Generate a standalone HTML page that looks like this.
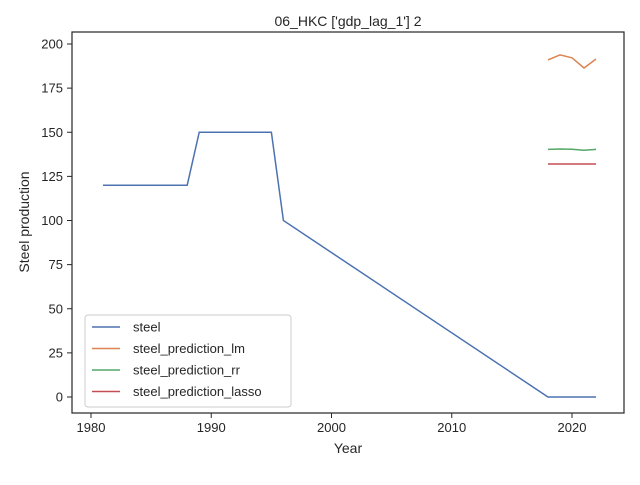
<!DOCTYPE html>
<html><head><meta charset="utf-8"><style>
body{margin:0;background:#fff;font-family:"Liberation Sans","DejaVu Sans",sans-serif}
text{font-family:"Liberation Sans","DejaVu Sans",sans-serif;fill:#262626}
</style></head><body>
<svg id="c" width="640" height="480" xmlns="http://www.w3.org/2000/svg">
<rect width="640" height="480" fill="#fff"/>
<g id="plot"></g>
</svg>
<script>
const steelYears=[1981,1988,1989,1995,1996,2018,2019,2020,2021,2022];
const steelVals=[120,120,150,150,100,0,0,0,0,0];
const predYears=[2018,2019,2020,2021,2022];
const lmVals=[191,193.8,192.2,186.4,191.5];
const rrVals=[140.3,140.5,140.4,139.8,140.3];
const lassoVals=[132,132,132,132,132];
const xTicks=[1980,1990,2000,2010,2020];
const yTicks=[0,25,50,75,100,125,150,175,200];
const L=72,R=624,T=32,B=413;
const x=v=>91+(v-1980)*(481/40);
const y=v=>397-v*1.765;
const NS="http://www.w3.org/2000/svg";
const g=document.getElementById('plot');
function mk(t,a,p){const e=document.createElementNS(NS,t);for(const k in a)e.setAttribute(k,a[k]);(p||g).appendChild(e);return e;}
function line(xs,vs,col,name){const e=mk('polyline',{points:xs.map((d,i)=>x(d)+','+y(vs[i])).join(' '),fill:'none',stroke:col,'stroke-width':1.5});

}
xTicks.forEach(t=>{mk('line',{x1:x(t),x2:x(t),y1:B,y2:B+5,stroke:'#262626'});const tx=mk('text',{x:x(t),y:B+19,'text-anchor':'middle','font-size':13});tx.textContent=t;

});
yTicks.forEach(t=>{mk('line',{x1:L-5,x2:L,y1:y(t),y2:y(t),stroke:'#262626'});const tx=mk('text',{x:L-9,y:y(t)+4.5,'text-anchor':'end','font-size':13});tx.textContent=t;

});
line(steelYears,steelVals,'#4c72b0','steel-line');
line(predYears,lmVals,'#dd8452','lm-line');
line(predYears,rrVals,'#55a868','rr-line');
line(predYears,lassoVals,'#c44e52','lasso-line');
mk('rect',{x:L,y:T,width:R-L,height:B-T,fill:'none',stroke:'#262626','stroke-width':1.2});
const ti=mk('text',{x:348,y:26,'text-anchor':'middle','font-size':14});ti.textContent="06_HKC ['gdp_lag_1'] 2";


const xl=mk('text',{x:348,y:453,'text-anchor':'middle','font-size':14});xl.textContent='Year';


const yl=mk('text',{x:29,y:222,'text-anchor':'middle','font-size':14,transform:'rotate(-90 29 222)'});yl.textContent='Steel production';


const lg=mk('g',{});


mk('rect',{x:85,y:315,width:206,height:92,rx:3,fill:'#fff',stroke:'#ccc'},lg);
[['steel','#4c72b0'],['steel_prediction_lm','#dd8452'],['steel_prediction_rr','#55a868'],['steel_prediction_lasso','#c44e52']].forEach((d,i)=>{
const yy=327+i*21.5;
mk('line',{x1:92,x2:120,y1:yy,y2:yy,stroke:d[1],'stroke-width':1.5},lg);
const t=mk('text',{x:133,y:yy+4.5,'font-size':13},lg);t.textContent=d[0];


});
</script>
</body></html>
